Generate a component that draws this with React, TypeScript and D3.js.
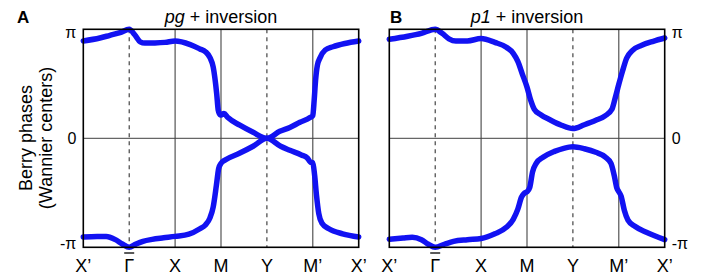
import { useEffect, useRef } from 'react';
import * as d3 from 'd3';

// k-path labels (positions 0..6 along the path)
const kLabels = ['X’', 'Γ', 'X', 'M', 'Y', 'M’', 'X’'];
const dashedK = [1, 4];
const solidK = [2, 3, 5];
const yTicks = [
  { v: 1, label: 'π' },
  { v: 0, label: '0' },
  { v: -1, label: '-π' },
];

// Berry phases in units of π: [k, phase/π]
const pgUpper: [number, number][] = [
  [0, 0.893], [0.36, 0.92], [0.58, 0.945], [0.8, 0.97], [1.0, 1.0],
  [1.12, 0.95], [1.24, 0.885], [1.34, 0.874], [1.56, 0.875], [1.78, 0.88],
  [2.0, 0.893], [2.33, 0.86], [2.54, 0.82], [2.66, 0.795], [2.76, 0.74],
  [2.83, 0.654], [2.906, 0.41], [2.94, 0.257], [2.98, 0.215], [3.0, 0.214],
  [3.065, 0.227], [3.15, 0.19], [3.41, 0.12], [3.7, 0.055], [4.0, 0.0],
  [4.28, 0.064], [4.5, 0.1], [4.72, 0.147], [4.94, 0.19], [5.0, 0.21],
  [5.03, 0.35], [5.06, 0.53], [5.1, 0.67], [5.16, 0.74], [5.27, 0.81],
  [5.44, 0.84], [5.7, 0.87], [6.0, 0.893],
];
const pgLower: [number, number][] = [
  [0, -0.905], [0.3, -0.9], [0.5, -0.9], [0.7, -0.93], [0.85, -0.97],
  [1.0, -1.0], [1.15, -0.97], [1.3, -0.945], [1.5, -0.927], [1.75, -0.913],
  [2.0, -0.9], [2.3, -0.88], [2.54, -0.83], [2.66, -0.795], [2.76, -0.73],
  [2.83, -0.63], [2.9, -0.43], [2.95, -0.275], [3.0, -0.23], [3.1, -0.197],
  [3.4, -0.138], [3.7, -0.073], [4.0, 0.0], [4.3, -0.073], [4.5, -0.11],
  [4.75, -0.153], [4.88, -0.18], [4.95, -0.22], [5.0, -0.225], [5.04, -0.34],
  [5.08, -0.52], [5.13, -0.69], [5.2, -0.78], [5.35, -0.83], [5.65, -0.876],
  [6.0, -0.905],
];
const p1Upper: [number, number][] = [
  [0, 0.908], [0.4, 0.936], [0.7, 0.963], [1.0, 1.0], [1.15, 0.963],
  [1.3, 0.913], [1.45, 0.893], [1.7, 0.893], [2.0, 0.915], [2.3, 0.88],
  [2.55, 0.835], [2.7, 0.78], [2.8, 0.706], [2.9, 0.587], [3.0, 0.47],
  [3.08, 0.35], [3.16, 0.266], [3.3, 0.216], [3.5, 0.17], [3.75, 0.12],
  [4.0, 0.089], [4.25, 0.124], [4.5, 0.165], [4.7, 0.206], [4.85, 0.266],
  [4.92, 0.367], [5.0, 0.495], [5.08, 0.615], [5.17, 0.734], [5.3, 0.807],
  [5.5, 0.853], [5.75, 0.89], [6.0, 0.92],
];
const p1Lower: [number, number][] = [
  [0, -0.927], [0.3, -0.915], [0.5, -0.908], [0.7, -0.93], [0.85, -0.972],
  [1.0, -1.0], [1.2, -0.972], [1.4, -0.945], [1.7, -0.93], [2.0, -0.92],
  [2.3, -0.876], [2.55, -0.817], [2.7, -0.743], [2.8, -0.65], [2.88, -0.54],
  [2.95, -0.5], [3.0, -0.49], [3.06, -0.45], [3.12, -0.31], [3.2, -0.23],
  [3.35, -0.174], [3.6, -0.12], [3.8, -0.092], [4.0, -0.078], [4.25, -0.096],
  [4.5, -0.128], [4.7, -0.17], [4.83, -0.23], [4.9, -0.34], [4.96, -0.46],
  [5.0, -0.49], [5.05, -0.53], [5.12, -0.66], [5.2, -0.75], [5.35, -0.807],
  [5.6, -0.862], [6.0, -0.93],
];

const FONT = '"Liberation Sans", Arial, Helvetica, sans-serif';
const BLUE = '#1212f2';

const App = () => {
  const svgRef = useRef<SVGSVGElement>(null);

  useEffect(() => {
    if (!svgRef.current) return;
    const svg = d3.select(svgRef.current);
    svg.selectAll('*').remove();

    const top = 29.3;
    const bottom = 247.3;

    const panels = [
      { left: 83.3, right: 358.7, letter: 'A', letterX: 17, sym: 'pg', bands: [pgUpper, pgLower], tickSide: 'left' },
      { left: 389.3, right: 664.7, letter: 'B', letterX: 390, sym: 'p1', bands: [p1Upper, p1Lower], tickSide: 'right' },
    ];

    panels.forEach(p => {
      const x = d3.scaleLinear().domain([0, 6]).range([p.left, p.right]);
      const y = d3.scaleLinear().domain([-1, 1]).range([bottom, top]);
      const g = svg.append('g');

      // zero line
      g.append('line')
        .attr('x1', p.left).attr('x2', p.right)
        .attr('y1', y(0)).attr('y2', y(0))
        .attr('stroke', '#666').attr('stroke-width', 1.2);

      // vertical symmetry lines
      solidK.forEach(k => {
        g.append('line')
          .attr('x1', x(k)).attr('x2', x(k))
          .attr('y1', top).attr('y2', bottom)
          .attr('stroke', '#444').attr('stroke-width', 1.1);
      });
      dashedK.forEach(k => {
        g.append('line')
          .attr('x1', x(k)).attr('x2', x(k))
          .attr('y1', top).attr('y2', bottom)
          .attr('stroke', '#333').attr('stroke-width', 1.1)
          .attr('stroke-dasharray', '4,4');
      });

      // bands
      const line = d3.line<[number, number]>()
        .x(d => x(d[0]))
        .y(d => y(d[1]))
        .curve(d3.curveMonotoneX);
      p.bands.forEach(band => {
        g.append('path')
          .attr('d', line(band) as string)
          .attr('fill', 'none')
          .attr('stroke', BLUE)
          .attr('stroke-width', 5.5)
          .attr('stroke-linejoin', 'round')
          .attr('stroke-linecap', 'round');
      });

      // frame
      g.append('rect')
        .attr('x', p.left).attr('y', top)
        .attr('width', p.right - p.left).attr('height', bottom - top)
        .attr('fill', 'none').attr('stroke', '#000').attr('stroke-width', 1.6);

      // y tick labels
      yTicks.forEach(t => {
        const dy = t.v === 1 ? 3 : t.v === -1 ? -4 : 0;
        g.append('text')
          .attr('x', p.tickSide === 'left' ? p.left - 7 : p.right + 7)
          .attr('y', y(t.v) + dy)
          .attr('text-anchor', p.tickSide === 'left' ? 'end' : 'start')
          .attr('dominant-baseline', 'central')
          .attr('font-family', FONT)
          .attr('font-size', 16)
          .text(t.label);
      });

      // x tick labels
      kLabels.forEach((lab, i) => {
        g.append('text')
          .attr('x', x(i))
          .attr('y', 272)
          .attr('text-anchor', 'middle')
          .attr('font-family', FONT)
          .attr('font-size', 18)
          .text(lab);
        if (lab === 'Γ') {
          g.append('line')
            .attr('x1', x(i) - 5).attr('x2', x(i) + 5)
            .attr('y1', 253).attr('y2', 253)
            .attr('stroke', '#000').attr('stroke-width', 1.3);
        }
      });

      // panel letter
      g.append('text')
        .attr('x', p.letterX)
        .attr('y', 23)
        .attr('font-family', FONT)
        .attr('font-weight', 'bold')
        .attr('font-size', 17)
        .text(p.letter);

      // title
      const title = g.append('text')
        .attr('x', (p.left + p.right) / 2)
        .attr('y', 23)
        .attr('text-anchor', 'middle')
        .attr('font-family', FONT)
        .attr('font-size', 18);
      title.append('tspan').attr('font-style', 'italic').text(p.sym);
      title.append('tspan').text(' + inversion');
    });

    // y axis label
    const yl = svg.append('text')
      .attr('transform', 'translate(36,138) rotate(-90)')
      .attr('text-anchor', 'middle')
      .attr('font-family', FONT)
      .attr('font-size', 18);
    yl.append('tspan').attr('x', 0).attr('dy', '-0.2em').text('Berry phases');
    yl.append('tspan').attr('x', 0).attr('dy', '1.08em').text('(Wannier centers)');
  }, []);

  return (
    <svg
      ref={svgRef}
      width={709}
      height={280}
      style={{ position: 'absolute', left: 0, top: 0, background: '#fff' }}
    />
  );
};

export default App;
